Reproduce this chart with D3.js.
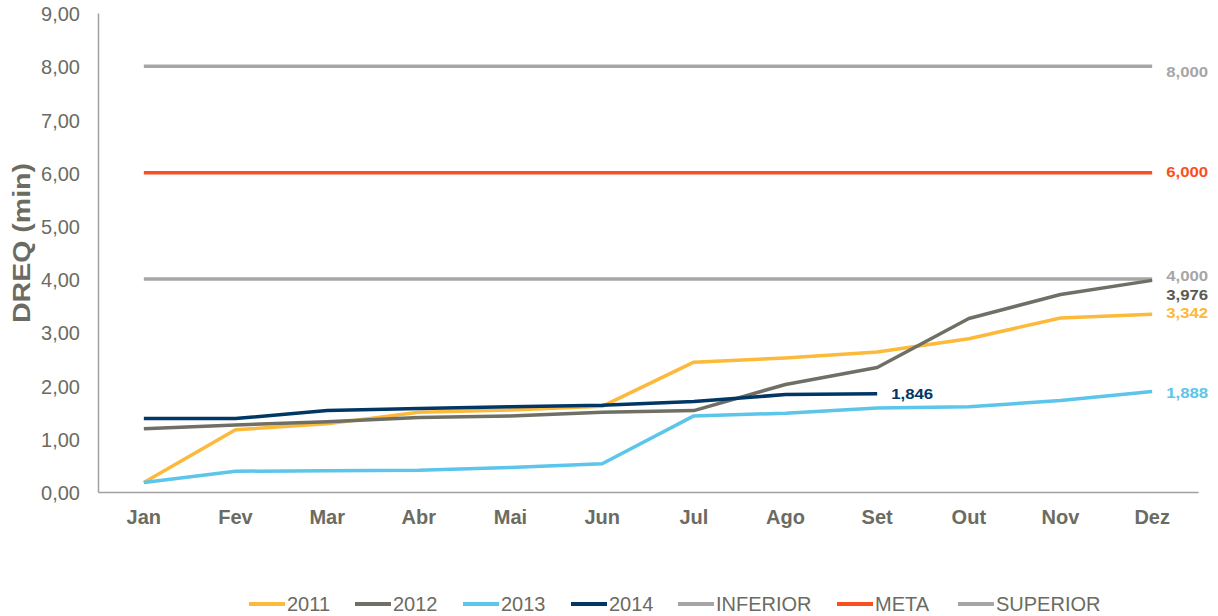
<!DOCTYPE html>
<html><head><meta charset="utf-8">
<script src="https://cdn.jsdelivr.net/npm/d3@7"></script>
<style>body{margin:0;background:#fff;}svg{display:block;font-family:"Liberation Sans",Arial,sans-serif;}</style>
</head><body><svg id="c" width="1218" height="616"></svg>
<script>
const months = ["Jan","Fev","Mar","Abr","Mai","Jun","Jul","Ago","Set","Out","Nov","Dez"];
const yTicks = [0,1,2,3,4,5,6,7,8,9];
const s2011 = [0.18,1.17,1.28,1.50,1.54,1.61,2.44,2.52,2.63,2.88,3.27,3.342];
const s2012 = [1.19,1.26,1.32,1.40,1.43,1.50,1.53,2.02,2.34,3.26,3.71,3.976];
const s2013 = [0.18,0.39,0.40,0.41,0.46,0.53,1.43,1.48,1.58,1.60,1.72,1.888];
const s2014 = [1.38,1.38,1.53,1.57,1.60,1.63,1.70,1.83,1.846];
const inferior = months.map(() => 4);
const meta = months.map(() => 6);
const superior = months.map(() => 8);
const seriesNames = ["2011","2012","2013","2014","INFERIOR","META","SUPERIOR"];
const seriesColors = ["#fdb93a","#6f6f66","#5bc5ea","#003764","#a6a6a6","#fc4f1f","#a6a6a6"];
const endLabels = ["3,342","3,976","1,888","1,846","4,000","6,000","8,000"];

const svg = d3.select("#c");
const x = d3.scaleBand().domain(months).range([98,1198]);
const xc = m => x(m) + x.bandwidth()/2;
const y = d3.scaleLinear().domain([0,9]).range([492,13]);
const txt = "#6b6b62";

// axes
const ya = svg.append("g").attr("transform","translate(98,0)")
  .call(d3.axisLeft(y).tickValues(yTicks).tickSize(0).tickPadding(18)
    .tickFormat(d => d3.format(".2f")(d).replace(".",",")));
ya.select(".domain").attr("stroke","#a0a0a0").attr("stroke-width",1.5);
ya.selectAll("text").attr("fill",txt).attr("font-size",20).attr("dy","0.38em").attr("font-family","Liberation Sans, Arial");

const xa = svg.append("g").attr("transform","translate(0,492)")
  .call(d3.axisBottom(x).tickSize(0).tickPadding(18));
xa.select(".domain").attr("stroke","#a0a0a0").attr("stroke-width",1.5);
xa.selectAll("text").attr("fill",txt).attr("font-size",20).attr("font-weight","bold").attr("font-family","Liberation Sans, Arial");

svg.append("text").attr("transform","translate(30,243) rotate(-90)")
  .attr("text-anchor","middle").attr("fill",txt).attr("font-size",24).attr("font-weight","bold")
  .attr("textLength",160).attr("lengthAdjust","spacingAndGlyphs")
  .text("DREQ (min)");

const line = d3.line().x((d,i) => xc(months[i])).y(d => y(d));
const allSeries = [s2011,s2012,s2013,s2014,inferior,meta,superior];
const drawOrder = [4,5,6,0,1,2,3];
drawOrder.forEach(k => {
  svg.append("path").datum(allSeries[k]).attr("d",line)
    .attr("fill","none").attr("stroke",seriesColors[k]).attr("stroke-width",3.5)
    .attr("stroke-linejoin","round");
});

// end labels
const labelDy = {0:4, 1:19.5, 2:6.5, 3:5, 4:2, 5:4, 6:10.5};
allSeries.forEach((s,k) => {
  const last = s.length - 1;
  svg.append("text").attr("x", xc(months[last]) + 14).attr("y", y(s[last]) + labelDy[k])
    .attr("fill", k===1 ? "#5a5a52" : seriesColors[k]).attr("font-size",15).attr("font-weight","bold")
    .attr("textLength",42).attr("lengthAdjust","spacingAndGlyphs")
    .text(endLabels[k]);
});

// legend
const legX = [249,355,463,571,678,837,958];
seriesNames.forEach((n,i) => {
  svg.append("line").attr("x1",legX[i]).attr("x2",legX[i]+36).attr("y1",604).attr("y2",604)
    .attr("stroke",seriesColors[i]).attr("stroke-width",4);
  svg.append("text").attr("x",legX[i]+38).attr("y",611).attr("fill",txt).attr("font-size",20).text(n);
});
</script></body></html>
